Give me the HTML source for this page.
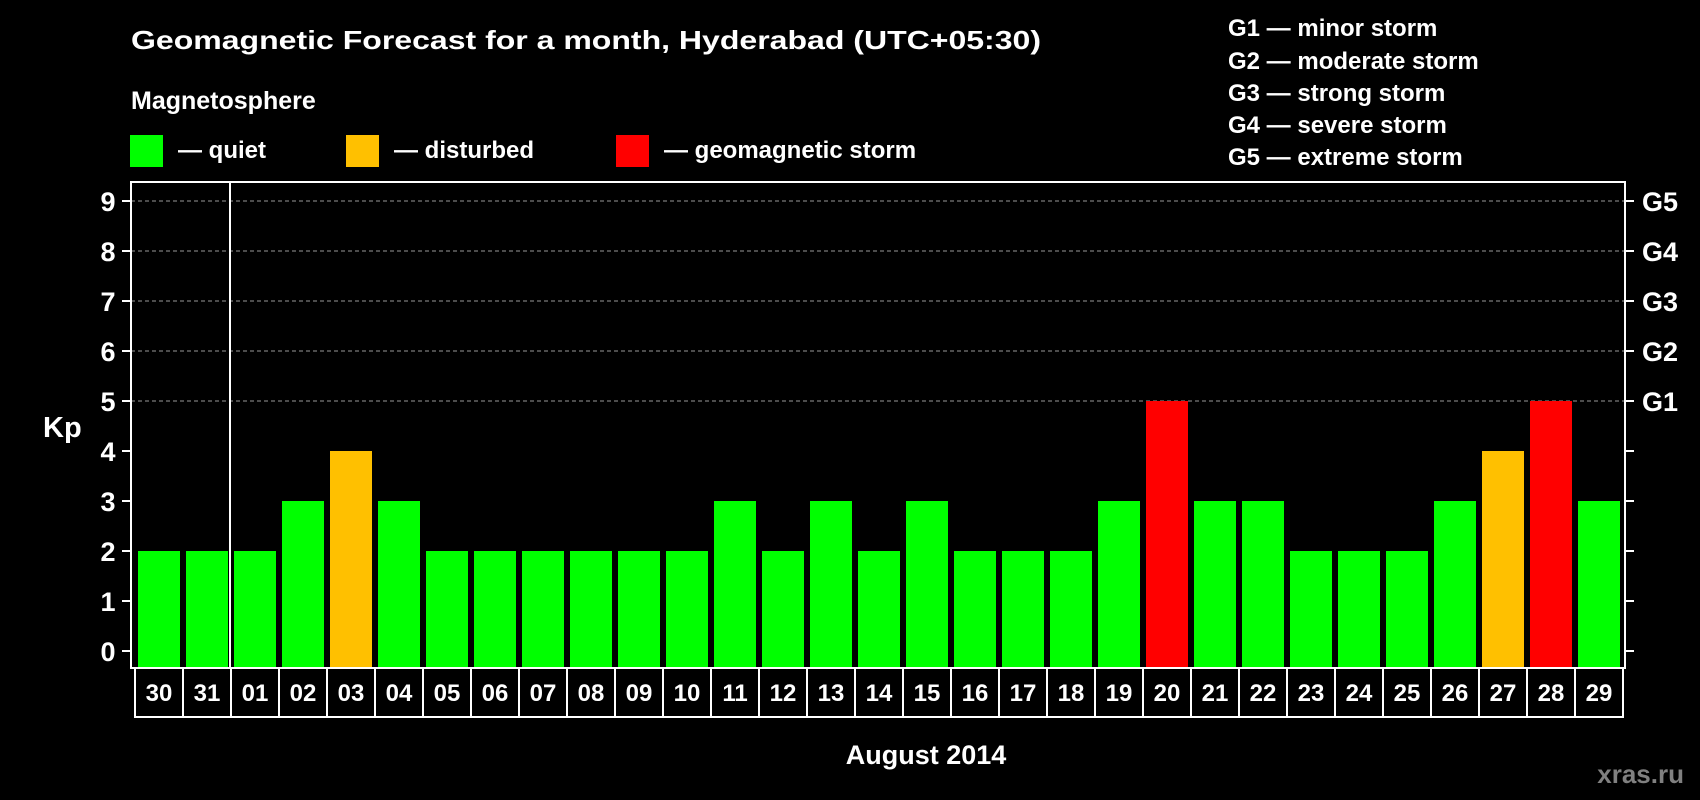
<!DOCTYPE html>
<html><head><meta charset="utf-8"><style>
html,body{margin:0;padding:0;background:#000;}
svg{display:block;font-family:"Liberation Sans",sans-serif;font-weight:bold;}
</style></head><body>
<svg id="chart" width="1700" height="800" viewBox="0 0 1700 800" xmlns="http://www.w3.org/2000/svg">
<rect x="0" y="0" width="1700" height="800" fill="#000"/>
<text x="131" y="49" fill="#fff" font-size="26" textLength="910" lengthAdjust="spacingAndGlyphs">Geomagnetic Forecast for a month, Hyderabad (UTC+05:30)</text>
<text x="131" y="109" fill="#fff" font-size="25">Magnetosphere</text>
<g>
<rect x="130" y="135" width="33" height="32" fill="#00ff00"/>
<text x="178" y="158" fill="#fff" font-size="24">— quiet</text></g>
<g>
<rect x="346" y="135" width="33" height="32" fill="#ffc000"/>
<text x="394" y="158" fill="#fff" font-size="24">— disturbed</text></g>
<g>
<rect x="616" y="135" width="33" height="32" fill="#ff0000"/>
<text x="664" y="158" fill="#fff" font-size="24">— geomagnetic storm</text></g>
<g fill="#fff" font-size="24">
<text x="1228" y="36">G1 — minor storm</text>
<text x="1228" y="69">G2 — moderate storm</text>
<text x="1228" y="101">G3 — strong storm</text>
<text x="1228" y="133">G4 — severe storm</text>
<text x="1228" y="165">G5 — extreme storm</text>
</g>
<text x="43" y="437" fill="#fff" font-size="29">Kp</text>
<text x="926" y="764" fill="#fff" font-size="27" text-anchor="middle">August 2014</text>
<text x="1684" y="783" fill="#808080" font-size="26" text-anchor="end">xras.ru</text>
<g id="grid"></g><g id="bars"></g><g id="axes"></g>
</svg>
<script>
const days=["30","31","01","02","03","04","05","06","07","08","09","10","11","12","13","14","15","16","17","18","19","20","21","22","23","24","25","26","27","28","29"];
const kp=[2,2,2,3,4,3,2,2,2,2,2,2,3,2,3,2,3,2,2,2,3,5,3,3,2,2,2,3,4,5,3];
const yTicks=[0,1,2,3,4,5,6,7,8,9];
const gLabels=["G1","G2","G3","G4","G5"];
const NS="http://www.w3.org/2000/svg";
const L=131,R=1625,T=182,B=668,cellX0=135,cellW=48;
const y=v=>651-v*50;
const x=i=>cellX0+i*cellW;
function mk(tag,attrs,parent){const e=document.createElementNS(NS,tag);for(const k in attrs)e.setAttribute(k,attrs[k]);parent.appendChild(e);return e;}
const grid=document.getElementById('grid'),bars=document.getElementById('bars'),axes=document.getElementById('axes');
yTicks.forEach(v=>{
 if(v>=5){const g=mk('line',{x1:L,x2:R,y1:y(v),y2:y(v),stroke:'#999','stroke-width':1,'stroke-dasharray':'4,3'},grid);
 
 }
 const t=mk('line',{x1:122,x2:L,y1:y(v),y2:y(v),stroke:'#fff','stroke-width':2},axes);
 
 
 const t2=mk('line',{x1:R,x2:R+9,y1:y(v),y2:y(v),stroke:'#fff','stroke-width':2},axes);
 
 
 const lb=mk('text',{x:108,y:y(v)+10,fill:'#fff','font-size':27,'text-anchor':'middle'},axes);
 lb.textContent=v;
 
 
});
gLabels.forEach((g,i)=>{
 const lb=mk('text',{x:1642,y:y(i+5)+10,fill:'#fff','font-size':27},axes);
 lb.textContent=g;
 
 
});
kp.forEach((v,i)=>{
 const c=v>=5?'#ff0000':(v>=4?'#ffc000':'#00ff00');
 const r=mk('rect',{x:x(i)+3,y:y(v),width:42,height:B-y(v),fill:c},bars);
 
 
 const cell=mk('rect',{x:x(i),y:B,width:cellW,height:49,fill:'#000',stroke:'#fff','stroke-width':2},axes);
 
 
 const lb=mk('text',{x:x(i)+cellW/2,y:B+33,fill:'#fff','font-size':24,'text-anchor':'middle'},axes);
 lb.textContent=days[i];
 
 
});
const fr=mk('rect',{x:L,y:T,width:R-L,height:B-T,fill:'none',stroke:'#fff','stroke-width':2},axes);


const dv=mk('line',{x1:x(2)-1,x2:x(2)-1,y1:T,y2:B,stroke:'#fff','stroke-width':2},axes);


</script>
</body></html>
